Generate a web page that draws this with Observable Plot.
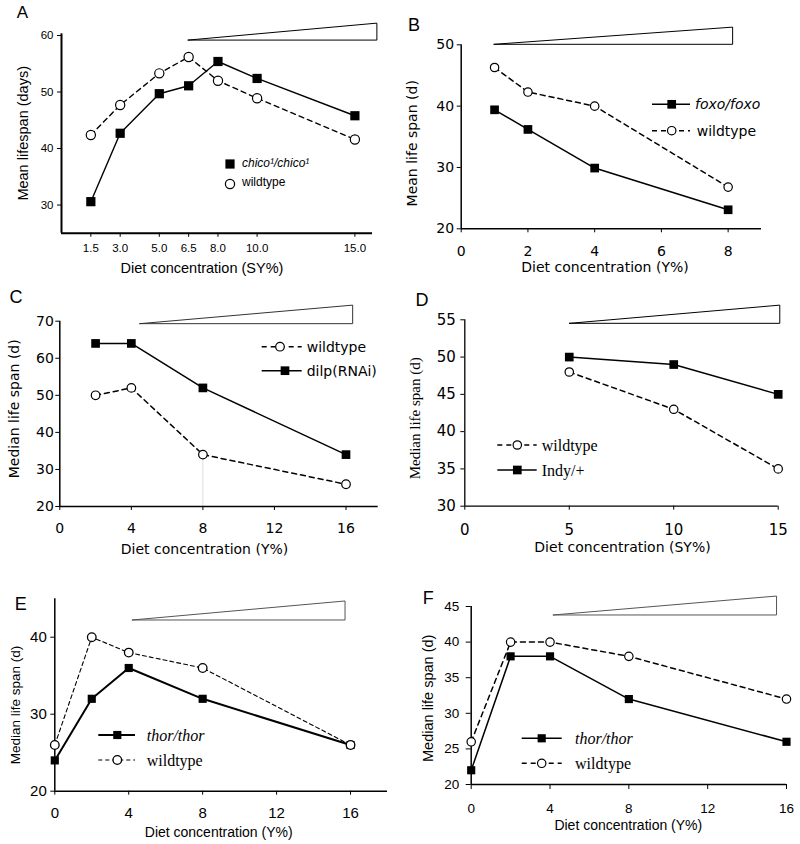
<!DOCTYPE html>
<html><head><meta charset="utf-8">
<script src="https://cdn.jsdelivr.net/npm/d3@7"></script>
<script src="https://cdn.jsdelivr.net/npm/@observablehq/plot@0.6"></script>
<style>
body{margin:0;background:#fff;}
#fig{position:relative;width:800px;height:844px;overflow:hidden;background:#fff;}
#fig svg{position:absolute;color:#000;}
</style></head><body><div id="fig"></div>
<script>
// ---------- DATA ----------
// Panel A
const concA = [1.5, 3.0, 5.0, 6.5, 8.0, 10.0, 15.0];
const chicoA = [30.6, 42.7, 49.7, 51.1, 55.4, 52.4, 45.8];
const wildA = [42.4, 47.7, 53.3, 56.2, 52.0, 48.9, 41.6];
const yTicksA = [30, 40, 50, 60];
const wedgeA = {x: [6.5, 16.15], base: 59.1, top: 62.1};
// Panel B
const concB = [1, 2, 4, 8];
const foxoB = [39.4, 36.2, 29.9, 23.1];
const wildB = [46.3, 42.3, 40.0, 26.8];
const xTicksB = [0, 2, 4, 6, 8];
const yTicksB = [20, 30, 40, 50];
const wedgeB = {x: [1, 8.15], base: 50, top: 52.8};
// Panel C
const concC = [2, 4, 8, 16];
const wildC = [50, 52, 34, 26];
const dilpC = [64, 64, 52, 34];
const xTicksC = [0, 4, 8, 12, 16];
const yTicksC = [20, 30, 40, 50, 60, 70];
const wedgeC = {x: [4.5, 16.4], base: 69.2, top: 74.2};
// Panel D
const concD = [5, 10, 15];
const wildD = [48, 43, 35];
const indyD = [50, 49, 45];
const xTicksD = [0, 5, 10, 15];
const yTicksD = [30, 35, 40, 45, 50, 55];
const wedgeD = {x: [5.03, 15.1], base: 54.46, top: 56.9};
// Panel E
const concE = [0, 2, 4, 8, 16];
const thorE = [24, 32, 36, 32, 26];
const wildE = [26, 40, 38, 36, 26];
const xTicksE = [0, 4, 8, 12, 16];
const yTicksE = [20, 30, 40];
const wedgeE = {x: [4.22, 15.73], base: 42.17, top: 44.64};
// Panel F
const concF = [0, 2, 4, 8, 16];
const thorF = [22, 38, 38, 32, 26];
const wildF = [26, 40, 40, 38, 32];
const xTicksF = [0, 4, 8, 12, 16];
const yTicksF = [20, 25, 30, 35, 40, 45];
const wedgeF = {x: [4.19, 15.52], base: 43.74, top: 46.4};

// ---------- STYLE ----------
const SANS = "'Liberation Sans', Arial, sans-serif";
const VERD = "'DejaVu Sans', Verdana, sans-serif";
const SERIF = "'Liberation Serif', 'Times New Roman', serif";

const series = (xs, ys) => xs.map((x, i) => ({x, y: ys[i]}));
const wedgeData = w => [{x: w.x[0], lo: w.base, hi: w.base}, {x: w.x[1], lo: w.base, hi: w.top}];

function text(g, str, x, y, o = {}) {
  const t = g.append("text")
    .attr("x", x).attr("y", y)
    .attr("text-anchor", o.anchor || "middle")
    .attr("dominant-baseline", "central")
    .attr("font-family", o.family || SANS)
    .attr("font-size", o.size || 14)
    .attr("fill", "#000")
    .text(str);
  if (o.italic) t.attr("font-style", "italic");
  if (o.rotate) t.attr("transform", `rotate(${o.rotate},${x},${y})`);
  return t;
}

function marker(g, type, x, y, s) {
  if (type === "square") {
    const side = s.r * Math.sqrt(Math.PI);
    g.append("rect").attr("x", x - side / 2).attr("y", y - side / 2)
      .attr("width", side).attr("height", side).attr("fill", "#000");
  } else {
    g.append("circle").attr("cx", x).attr("cy", y).attr("r", s.r)
      .attr("fill", "#fff").attr("stroke", "#000").attr("stroke-width", s.sw || 1.2);
  }
}

function makePanel(p) {
  const marks = [];
  marks.push(Plot.areaY(wedgeData(p.wedge), {x: "x", y1: "lo", y2: "hi", fill: "white", stroke: p.wedgeColor || "#000", strokeWidth: 1}));
  if (p.extra) marks.push(...p.extra);
  // axis lines
  marks.push(Plot.ruleY([p.yDom[0]], {stroke: "#000", strokeWidth: p.axisW}));
  marks.push(Plot.ruleX([p.xDom[0]], {y1: p.yDom[0], y2: p.yTop ?? p.yDom[1], stroke: "#000", strokeWidth: p.axisW}));
  marks.push(Plot.axisX({ticks: p.xTicks, tickFormat: p.xFmt || (d => d), tickSize: p.tickSize, tickPadding: p.xPad, fontSize: p.tickFS, fontFamily: p.tickFamily, label: null, strokeWidth: p.tickW || 1}));
  marks.push(Plot.axisY({ticks: p.yTicks, tickFormat: d => d, tickSize: p.tickSize, tickPadding: p.yPad, fontSize: p.tickFS, fontFamily: p.tickFamily, label: null, strokeWidth: p.tickW || 1}));
  // lines
  for (const s of p.series) {
    marks.push(Plot.line(s.data, {x: "x", y: "y", stroke: "#000", strokeWidth: s.lw, strokeDasharray: s.dash || null}));
  }
  for (const s of p.series.filter(d => d.type === "square")) {
    marks.push(Plot.dot(s.data, {x: "x", y: "y", symbol: "square", r: s.r, fill: "#000", stroke: "none"}));
  }
  for (const s of p.series.filter(d => d.type === "circle")) {
    marks.push(Plot.dot(s.data, {x: "x", y: "y", symbol: "circle", r: s.r, fill: "#fff", stroke: "#000", strokeWidth: s.sw || 1.2}));
  }
  const svg = Plot.plot({
    width: p.width, height: p.height,
    marginLeft: p.m[0], marginRight: p.m[1], marginTop: p.m[2], marginBottom: p.m[3],
    x: {domain: p.xDom, axis: null},
    y: {domain: p.yDom, axis: null},
    style: {background: "transparent", fontFamily: p.tickFamily, fontSize: p.tickFS + "px", overflow: "visible", color: "#000"},
    marks
  });
  svg.style.left = p.left + "px";
  svg.style.top = p.top + "px";
  const g = d3.select(svg).append("g");
  text(g, p.letter, p.letterPos[0], p.letterPos[1], {size: p.letterFS || 18, family: SANS});
  text(g, p.xTitle, p.xTitlePos[0], p.xTitlePos[1], {size: p.xTitleFS, family: p.xTitleFamily});
  text(g, p.yTitle, p.yTitlePos[0], p.yTitlePos[1], {size: p.yTitleFS, family: p.yTitleFamily, rotate: -90});
  for (const L of p.legend) {
    const s = L.series;
    if (L.line) {
      g.append("line").attr("x1", L.line[0]).attr("x2", L.line[1]).attr("y1", L.y).attr("y2", L.y)
        .attr("stroke", "#000").attr("stroke-width", s.lw).attr("stroke-dasharray", s.dash || null);
    }
    marker(g, s.type, L.mx, L.y, s);
    text(g, L.label, L.tx, L.ty ?? L.y, {anchor: "start", size: p.legendFS, family: p.legendFamily, italic: L.italic});
  }
  document.getElementById("fig").appendChild(svg);
}

// ---------- PANELS ----------
// A
{
  const chico = {data: series(concA, chicoA), type: "square", r: 5.2, lw: 1.4};
  const wild = {data: series(concA, wildA), type: "circle", r: 4.6, lw: 1.4, dash: "5,4", sw: 1.2};
  makePanel({
    left: 0, top: 0, width: 400, height: 280, m: [61, 28, 35, 47.2],
    xDom: [0, 15.9], yDom: [25, 60], yTop: 60.3, xTicks: concA, xFmt: d3.format(".1f"), yTicks: yTicksA,
    tickFS: 11.5, tickFamily: SANS, tickSize: 4, xPad: 7, yPad: 4, axisW: 2,
    wedge: wedgeA, series: [wild, chico],
    letter: "A", letterPos: [22.5, 12.5], letterFS: 17,
    xTitle: "Diet concentration (SY%)", xTitlePos: [202, 268.3], xTitleFS: 14.5, xTitleFamily: SANS,
    yTitle: "Mean lifespan (days)", yTitlePos: [23.3, 133.3], yTitleFS: 14.5, yTitleFamily: SANS,
    legendFS: 12, legendFamily: SANS,
    legend: [
      {series: chico, mx: 230, y: 164, tx: 242, ty: 163, label: "chico¹/chico¹", italic: true},
      {series: wild, mx: 230, y: 184, tx: 242, ty: 182, label: "wildtype"}
    ]
  });
}
// B
{
  const foxo = {data: series(concB, foxoB), type: "square", r: 4.9, lw: 1.5};
  const wild = {data: series(concB, wildB), type: "circle", r: 4.2, lw: 1.5, dash: "5,4", sw: 1.2};
  makePanel({
    left: 400, top: 0, width: 400, height: 280, m: [60.7, 39, 44.3, 51.7],
    xDom: [0, 9], yDom: [20, 50], xTicks: xTicksB, yTicks: yTicksB,
    tickFS: 14, tickFamily: VERD, tickSize: 4, xPad: 13, yPad: 3, axisW: 1.5,
    wedge: wedgeB, series: [wild, foxo],
    letter: "B", letterPos: [14, 25], letterFS: 18,
    xTitle: "Diet concentration (Y%)", xTitlePos: [205, 266.7], xTitleFS: 14, xTitleFamily: VERD,
    yTitle: "Mean life span (d)", yTitlePos: [11.7, 143.3], yTitleFS: 14, yTitleFamily: VERD,
    legendFS: 14, legendFamily: VERD,
    legend: [
      {series: foxo, line: [252, 290], mx: 271.7, y: 104.3, tx: 295, label: "foxo/foxo", italic: true},
      {series: wild, line: [252, 290], mx: 271.7, y: 130.7, tx: 296.7, label: "wildtype"}
    ]
  });
}
// C
{
  const wild = {data: series(concC, wildC), type: "circle", r: 4.3, lw: 1.5, dash: "5,4", sw: 1.2};
  const dilp = {data: series(concC, dilpC), type: "square", r: 4.9, lw: 1.5};
  makePanel({
    left: 0, top: 280, width: 400, height: 280, m: [59.3, 22.3, 40.7, 54],
    xDom: [0, 17.8], yDom: [20, 70], xTicks: xTicksC, yTicks: yTicksC,
    tickFS: 14, tickFamily: VERD, tickSize: 4, xPad: 13, yPad: 2, axisW: 1.5,
    wedge: wedgeC, wedgeColor: "#333", series: [wild, dilp],
    extra: [Plot.ruleX([{x: concC[2], y: wildC[2]}], {x: "x", y1: 20, y2: "y", stroke: "#ddd", strokeWidth: 1})],
    letter: "C", letterPos: [16, 16.7], letterFS: 18,
    xTitle: "Diet concentration (Y%)", xTitlePos: [204.5, 269], xTitleFS: 14, xTitleFamily: VERD,
    yTitle: "Median life span (d)", yTitlePos: [14, 128.8], yTitleFS: 14, yTitleFamily: VERD,
    legendFS: 14, legendFamily: VERD,
    legend: [
      {series: wild, line: [261.7, 301.7], mx: 280, y: 66.7, tx: 306.7, label: "wildtype"},
      {series: dilp, line: [261.7, 301.7], mx: 285, y: 90.7, tx: 306.7, label: "dilp(RNAi)"}
    ]
  });
}
// D
{
  const wild = {data: series(concD, wildD), type: "circle", r: 4.2, lw: 1.5, dash: "5,4", sw: 1.2};
  const indy = {data: series(concD, indyD), type: "square", r: 4.9, lw: 1.5};
  makePanel({
    left: 400, top: 280, width: 400, height: 280, m: [64.3, 22.3, 39.3, 54.3],
    xDom: [0, 15], yDom: [30, 55], xTicks: xTicksD, yTicks: yTicksD,
    tickFS: 15, tickFamily: VERD, tickSize: 4, xPad: 14, yPad: 5, axisW: 1.3,
    wedge: wedgeD, series: [wild, indy],
    letter: "D", letterPos: [22, 19.5], letterFS: 18,
    xTitle: "Diet concentration (SY%)", xTitlePos: [222.5, 267], xTitleFS: 14, xTitleFamily: VERD,
    yTitle: "Median life span (d)", yTitlePos: [15, 138.3], yTitleFS: 15, yTitleFamily: SERIF,
    legendFS: 16, legendFamily: SERIF,
    legend: [
      {series: wild, line: [97.3, 136.7], mx: 117.3, y: 165, tx: 141.7, label: "wildtype"},
      {series: indy, line: [97.3, 136.7], mx: 117.3, y: 190, tx: 141.7, label: "Indy/+"}
    ]
  });
}
// E
{
  const thor = {data: series(concE, thorE), type: "square", r: 4.6, lw: 2};
  const wild = {data: series(concE, wildE), type: "circle", r: 4.3, lw: 1.1, dash: "4,3", sw: 1.3};
  makePanel({
    left: 0, top: 560, width: 400, height: 284, m: [54.3, 13, 38.2, 53.3],
    xDom: [0, 18], yDom: [20, 45], xTicks: xTicksE, yTicks: yTicksE,
    tickFS: 15, tickFamily: SANS, tickSize: 4, xPad: 12, yPad: 4, axisW: 1.5,
    wedge: wedgeE, wedgeColor: "#555", series: [wild, thor],
    letter: "E", letterPos: [20.8, 44.2], letterFS: 18,
    xTitle: "Diet concentration (Y%)", xTitlePos: [218.7, 271.7], xTitleFS: 14, xTitleFamily: SANS,
    yTitle: "Median life span (d)", yTitlePos: [15, 145], yTitleFS: 13.5, yTitleFamily: SANS,
    legendFS: 16, legendFamily: SERIF,
    legend: [
      {series: thor, line: [98.3, 135], mx: 117.3, y: 175, tx: 146.7, label: "thor/thor", italic: true},
      {series: wild, line: [98.3, 135], mx: 117.3, y: 200, tx: 146.7, label: "wildtype"}
    ]
  });
}
// F
{
  const thor = {data: series(concF, thorF), type: "square", r: 4.6, lw: 1.5};
  const wild = {data: series(concF, wildF), type: "circle", r: 4.2, lw: 1.5, dash: "5,4", sw: 1.2};
  makePanel({
    left: 400, top: 560, width: 400, height: 284, m: [70.7, 14, 46, 60],
    xDom: [0, 16], yDom: [20, 45], xTicks: xTicksF, yTicks: yTicksF,
    tickFS: 13.5, tickFamily: SANS, tickSize: 5, xPad: 14, yPad: 7, axisW: 1.5,
    wedge: wedgeF, wedgeColor: "#555", series: [wild, thor],
    letter: "F", letterPos: [28.3, 37.5], letterFS: 18,
    xTitle: "Diet concentration (Y%)", xTitlePos: [228.3, 265], xTitleFS: 14, xTitleFamily: SANS,
    yTitle: "Median life span (d)", yTitlePos: [28.3, 138.3], yTitleFS: 14.5, yTitleFamily: SANS,
    legendFS: 16, legendFamily: SERIF,
    legend: [
      {series: thor, line: [121.7, 161.7], mx: 141.7, y: 178.3, tx: 175, label: "thor/thor", italic: true},
      {series: wild, line: [121.7, 161.7], mx: 141.7, y: 203.3, tx: 175, label: "wildtype"}
    ]
  });
}
</script></body></html>
